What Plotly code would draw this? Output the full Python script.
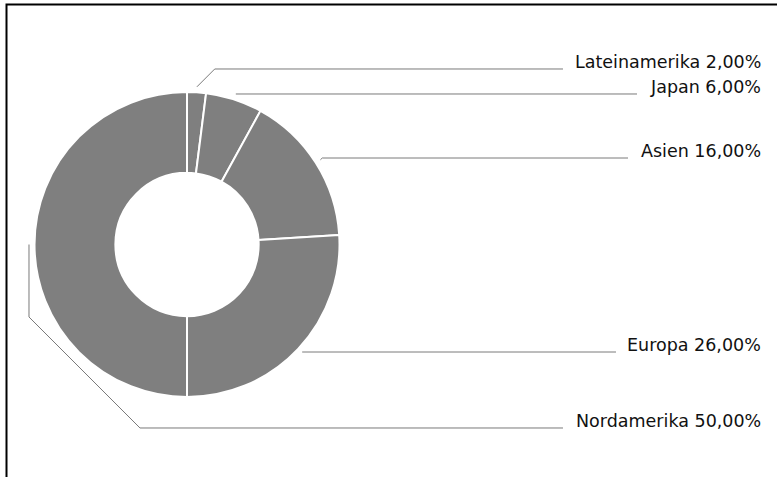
import math
import plotly.graph_objects as go

# --- data ---
regions = ["Lateinamerika", "Japan", "Asien", "Europa", "Nordamerika"]
shares = [2.0, 6.0, 16.0, 26.0, 50.0]

# --- layout (pixels) ---
W, H = 777, 477
CX, CY, R = 187, 244.5, 152.5
HOLE = 0.47
LEADER_R = R + 5.5
label_y = [69, 94, 158, 352, 428]          # y of each horizontal leader
line_end = [563, 637, 628, 616, 563]       # where the leader stops before the text
drop_to = {"Nordamerika": 317}             # vertical drop before the 45° elbow
TEXT_RIGHT = 763
FONT = dict(family="DejaVu Sans", size=17.5, color="#111111")


def px(x):
    return x / W


def py(y):
    return 1 - y / H


fig = go.Figure()
fig.add_trace(go.Pie(
    labels=regions, values=shares, sort=False, direction="clockwise", rotation=0,
    hole=HOLE, textinfo="none", hoverinfo="label+percent",
    marker=dict(colors=["#7f7f7f"] * len(regions), line=dict(color="white", width=2)),
    domain=dict(x=[px(CX - R), px(CX + R)], y=[py(CY + R), py(CY - R)]),
    showlegend=False,
))

shapes = [dict(type="rect", xref="paper", yref="paper",
               x0=px(6.5), y0=py(4.5), x1=1.05, y1=-0.05,
               line=dict(color="black", width=2), fillcolor="rgba(0,0,0,0)")]
annotations = []

total = sum(shares)
cum = 0
for name, v, ly, lx in zip(regions, shares, label_y, line_end):
    mid = (cum + v / 2) / total * 2 * math.pi
    cum += v
    ax = CX + LEADER_R * math.sin(mid)
    ay = CY - LEADER_R * math.cos(mid)
    pts = [(ax, ay)]
    if name in drop_to:
        pts.append((ax, drop_to[name]))
    lastx, lasty = pts[-1]
    if abs(lasty - ly) > 1:
        pts.append((lastx + abs(lasty - ly), ly))
    else:
        pts[-1] = (lastx, ly)
    pts.append((lx, ly))
    path = "M " + " L ".join(f"{px(x):.5f},{py(y):.5f}" for x, y in pts)
    shapes.append(dict(type="path", xref="paper", yref="paper", path=path,
                       line=dict(color="#7a7a7a", width=1)))
    annotations.append(dict(
        xref="paper", yref="paper", x=px(TEXT_RIGHT), y=py(ly - 6.8),
        xanchor="right", yanchor="middle", showarrow=False,
        text=f"{name} {v:.2f}%".replace(".", ","), font=FONT,
    ))

fig.update_layout(
    width=W, height=H,
    margin=dict(l=0, r=0, t=0, b=0),
    paper_bgcolor="white", plot_bgcolor="white",
    shapes=shapes, annotations=annotations,
)

# page body has an 8px default margin; drop it so the figure sits at the window origin
fig.write_html("out.html", config={"displayModeBar": False},
               post_script="document.body.style.margin='0';")
